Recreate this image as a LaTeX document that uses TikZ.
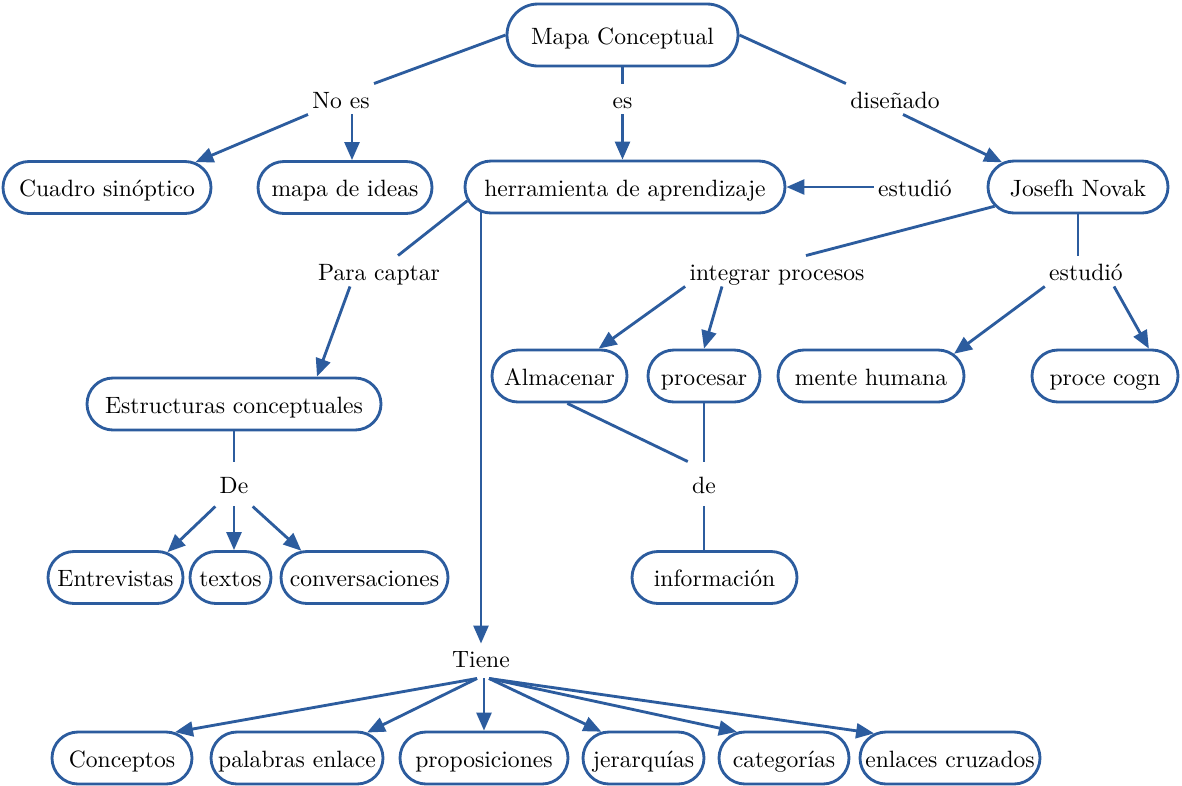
\documentclass[tikz,border=0pt]{standalone}
\usepackage{fontspec}
\usetikzlibrary{arrows.meta,shapes.misc}
\definecolor{mapblue}{RGB}{44,92,158}
% centred text of zero width, so the box width is set by the style alone
\newcommand{\cbox}[1]{\makebox[0pt]{#1}}

\begin{document}
\begin{tikzpicture}[x=0.4237pt,y=-0.4237pt,
  font=\fontsize{10}{12}\selectfont,
  concept/.style={draw=mapblue, line width=1.2pt, rounded rectangle, fill=white,
    minimum height=22.03pt, inner xsep=0pt, inner ysep=0pt,
    text height=7.63pt, text depth=0pt},
  wd/.style={minimum width=#1*0.4237pt},
  link/.style={inner xsep=1.69pt, inner ysep=2.54pt, text height=7.63pt, text depth=0pt},
  conn/.style={draw=mapblue, line width=1.2pt},
  arr/.style={conn, -{Triangle[length=7.6pt,width=6.3pt]}},
]
\useasboundingbox[fill=white] (0,0) rectangle (1182,785);

% concepts
\node[concept, wd=231, minimum height=26.27pt] (mapa) at (622.5,35) {\cbox{Mapa Conceptual}};
\node[concept, wd=208] (cuadro) at (107,187.5) {\cbox{Cuadro sinóptico}};
\node[concept, wd=174] (ideas) at (345,187.5) {\cbox{mapa de ideas}};
\node[concept, wd=320] (herr) at (625,187) {\cbox{herramienta de aprendizaje}};
\node[concept, wd=180] (josefh) at (1078,187) {\cbox{Josefh Novak}};
\node[concept, wd=294] (estr) at (234,404) {\cbox{Estructuras conceptuales}};
\node[concept, wd=135] (alm) at (559.5,376) {\cbox{Almacenar}};
\node[concept, wd=112] (proc) at (704,376) {\cbox{procesar}};
\node[concept, wd=186] (mente) at (871,376) {\cbox{mente humana}};
\node[concept, wd=146] (cogn) at (1105,376) {\cbox{proce cogn}};
\node[concept, wd=135] (entr) at (115.5,577.5) {\cbox{Entrevistas}};
\node[concept, wd=81] (textos) at (230.5,577.5) {\cbox{textos}};
\node[concept, wd=167] (conv) at (364.5,577.5) {\cbox{conversaciones}};
\node[concept, wd=165] (info) at (714.5,577.5) {\cbox{información}};
\node[concept, wd=140] (conc) at (122,758) {\cbox{Conceptos}};
\node[concept, wd=172] (pal) at (297,758) {\cbox{palabras enlace}};
\node[concept, wd=168] (prop) at (484,758) {\cbox{proposiciones}};
\node[concept, wd=121] (jer) at (643.5,758) {\cbox{jerarquías}};
\node[concept, wd=130] (cat) at (784,758) {\cbox{categorías}};
\node[concept, wd=180] (cruz) at (950,758) {\cbox{enlaces cruzados}};

% linking phrases
\node[link] (noes) at (341,99) {No es};
\node[link] (es) at (622.5,99) {es};
\node[link] (disenado) at (895,99) {diseñado};
\node[link] (estudioA) at (915,187) {estudió};
\node[link] (paracaptar) at (379,271) {Para captar};
\node[link] (integrar) at (777,271) {integrar procesos};
\node[link] (estudioB) at (1086,271) {estudió};
\node[link, inner ysep=5.51pt] (De) at (234,484) {De};
\node[link, inner ysep=5.51pt] (de) at (704,484) {de};
\node[link, inner ysep=2.12pt, text depth=2.54pt] (Tiene) at (481,661) {Tiene};

% top level
\draw[conn] (mapa.west) -- (noes.north east);
\draw[arr] (noes.south west) -- (cuadro.16);
\draw[arr] ([shift={(11,0)}]noes.south) -- ([shift={(7,0)}]ideas.north);
\draw[conn] (mapa.south) -- (es.north);
\draw[arr] (es.south) -- (es.south |- herr.north);
\draw[conn] (mapa.east) -- (disenado.north west);
\draw[arr] ([shift={(8,0)}]disenado.south) -- (josefh.162);
\draw[arr] (estudioA.west) -- (herr.east);

% Josefh Novak
\draw[conn] (josefh.193) -- ([shift={(29,0)}]integrar.north);
\draw[conn] (josefh.south) -- (josefh.south |- estudioB.north);
\draw[arr] (estudioB.south west) -- (mente.15);
\draw[arr] ([shift={(28,0)}]estudioB.south) -- (cogn.32);
\draw[arr] (integrar.south west) -- (alm.35);
\draw[arr] ([shift={(-55,0)}]integrar.south) -- (proc.north);
\draw[conn] (alm.286) -- (de.north west);
\draw[conn] (proc.south) -- (proc.south |- de.north);
\draw[conn] (de.south) -- (de.south |- info.north);

% left branch
\draw[conn] (herr.185) -- ([shift={(19,0)}]paracaptar.north);
\draw[arr] ([shift={(-29,0)}]paracaptar.south) -- ([shift={(83,0)}]estr.north);
\draw[conn] (estr.south) -- (estr.south |- De.north);
\draw[arr] (De.south west) -- (entr.26);
\draw[arr] (De.south) -- (De.south |- textos.north);
\draw[arr] (De.south east) -- (conv.157);

% Tiene
\draw[arr, shorten <=-1.2pt] (herr.south -| Tiene.north) -- (Tiene.north);
\draw[arr] ([shift={(-4,0)}]Tiene.south) -- (conc.26);
\draw[arr] ([shift={(-4,0)}]Tiene.south) -- (pal.20);
\draw[arr] (Tiene.south -| prop.north) -- (prop.north);
\draw[arr] ([shift={(8,0)}]Tiene.south) -- (jer.148);
\draw[arr] ([shift={(8,0)}]Tiene.south) -- (cat.151);
\draw[arr] ([shift={(8,0)}]Tiene.south) -- (cruz.162);
\end{tikzpicture}
\end{document}
